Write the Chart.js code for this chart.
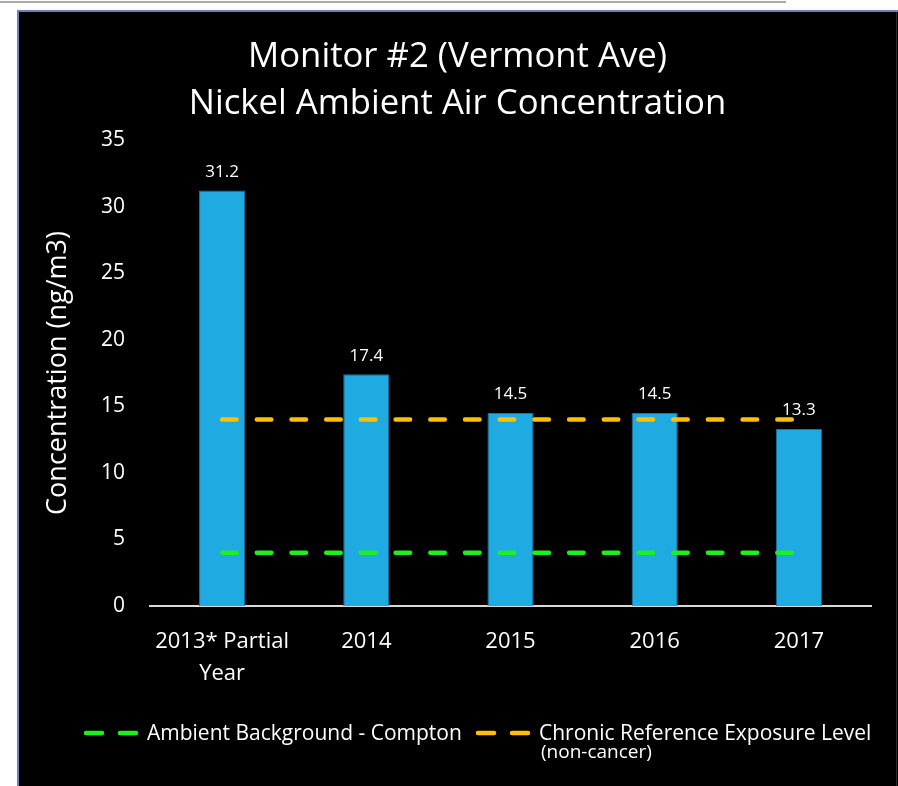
<!DOCTYPE html>
<html>
<head>
<meta charset="utf-8">
<script src="https://cdn.jsdelivr.net/npm/chart.js@4.4.0/dist/chart.umd.min.js"></script>
<style>
  html, body { margin: 0; padding: 0; background: #fff; }
  #wrap { width: 898px; height: 786px; }
</style>
</head>
<body>
<div id="wrap"><canvas id="chart" width="898" height="786"></canvas></div>
<script>
// 数据
const years = [['2013* Partial', 'Year'], '2014', '2015', '2016', '2017'];
const nickelValues = [31.2, 17.4, 14.5, 14.5, 13.3];
const ambientBackground = [4, 4, 4, 4, 4];
const chronicREL = [14, 14, 14, 14, 14];
const yTickValues = [0, 5, 10, 15, 20, 25, 30, 35];
const titleLines = ['Monitor #2 (Vermont Ave)', 'Nickel Ambient Air Concentration'];
const legendLabels = ['Ambient Background - Compton', 'Chronic Reference Exposure Level'];
const legendSubLabel = '(non-cancer)';

const FONT = '"Open Sans", "Noto Sans", sans-serif';

// 背景和边框
const panelPlugin = {
  id: 'panel',
  beforeDraw(chart) {
    const ctx = chart.ctx;
    ctx.save();
    ctx.fillStyle = '#fff';
    ctx.fillRect(0, 0, chart.width, chart.height);
    ctx.strokeStyle = '#8e8e8e';
    ctx.lineWidth = 1.5;
    ctx.beginPath();
    ctx.moveTo(0, 2);
    ctx.lineTo(786, 2);
    ctx.stroke();
    ctx.fillStyle = '#000';
    ctx.fillRect(17, 10, chart.width - 17, chart.height - 10);
    ctx.strokeStyle = '#6e7fb8';
    ctx.lineWidth = 2;
    ctx.beginPath();
    ctx.moveTo(18, chart.height);
    ctx.lineTo(18, 11);
    ctx.lineTo(chart.width, 11);
    ctx.stroke();
    ctx.strokeStyle = '#2a2a2a';
    ctx.lineWidth = 1;
    ctx.beginPath();
    ctx.moveTo(896.5, 12);
    ctx.lineTo(896.5, chart.height);
    ctx.stroke();
    ctx.restore();
  }
};

// 柱顶数值
const valueLabelPlugin = {
  id: 'valueLabels',
  afterDatasetsDraw(chart) {
    const ctx = chart.ctx;
    const meta = chart.getDatasetMeta(0);
    ctx.save();
    ctx.fillStyle = '#fff';
    ctx.font = '17px ' + FONT;
    ctx.textAlign = 'center';
    ctx.textBaseline = 'middle';
    meta.data.forEach((bar, i) => {
      ctx.fillText(nickelValues[i].toFixed(1), bar.x, bar.y - 18.5);
    });
    ctx.restore();
  }
};

// 自定义图例
const legendPlugin = {
  id: 'customLegend',
  afterDraw(chart) {
    const ctx = chart.ctx;
    const y = chart.chartArea.bottom + 127;
    const starts = [86, 478];
    ctx.save();
    [1, 2].forEach((dsIndex, k) => {
      const ds = chart.data.datasets[dsIndex];
      const x0 = starts[k];
      ctx.strokeStyle = ds.borderColor;
      ctx.lineWidth = ds.borderWidth;
      ctx.lineCap = 'round';
      ctx.setLineDash([16, 18]);
      ctx.beginPath();
      ctx.moveTo(x0, y);
      ctx.lineTo(x0 + 52, y);
      ctx.stroke();
      ctx.setLineDash([]);
      ctx.fillStyle = '#fff';
      ctx.font = '21px ' + FONT;
      ctx.textAlign = 'left';
      ctx.textBaseline = 'middle';
      ctx.fillText(ds.label, x0 + 61, y + 1);
    });
    ctx.font = '19px ' + FONT;
    ctx.fillText(legendSubLabel, starts[1] + 63, y + 20);
    ctx.restore();
  }
};

const ctx = document.getElementById('chart').getContext('2d');
new Chart(ctx, {
  data: {
    labels: years,
    datasets: [
      {
        type: 'bar',
        label: 'Nickel',
        data: nickelValues,
        backgroundColor: '#1fabe1',
        borderColor: '#17739f',
        borderWidth: 1,
        categoryPercentage: 1,
        barPercentage: 0.32,
        order: 2
      },
      {
        type: 'line',
        label: legendLabels[0],
        data: ambientBackground,
        borderColor: '#1ef01e',
        borderWidth: 4.5,
        borderDash: [14.5, 20.2],
        borderCapStyle: 'round',
        pointRadius: 0,
        fill: false,
        order: 1
      },
      {
        type: 'line',
        label: legendLabels[1],
        data: chronicREL,
        borderColor: '#ffc000',
        borderWidth: 4.5,
        borderDash: [14.5, 20.2],
        borderCapStyle: 'round',
        pointRadius: 0,
        fill: false,
        order: 0
      }
    ]
  },
  options: {
    responsive: false,
    animation: false,
    layout: { padding: { left: 17, right: 0, top: 10, bottom: 80 } },
    plugins: {
      legend: { display: false },
      tooltip: { enabled: false },
      title: {
        display: true,
        text: titleLines,
        color: '#fff',
        font: { family: FONT, size: 34.7, weight: 'normal', lineHeight: 47 / 34.7 },
        padding: { top: 24, bottom: 12 }
      }
    },
    scales: {
      x: {
        grid: { display: false, drawTicks: false },
        border: { display: true, color: '#d9d9d9', width: 2 },
        ticks: {
          color: '#fff',
          font: { family: FONT, size: 22, lineHeight: 1.45 },
          padding: 20,
          maxRotation: 0,
          autoSkip: false
        },
        afterFit(scale) { scale.height = 100; }
      },
      y: {
        min: 0,
        max: 35,
        grid: { display: false, drawTicks: false },
        border: { display: false },
        ticks: {
          color: '#fff',
          font: { family: FONT, size: 21 },
          padding: 25
        },
        afterBuildTicks(scale) {
          scale.ticks = yTickValues.map(v => ({ value: v }));
        },
        afterFit(scale) { scale.width = 133; },
        title: {
          display: true,
          text: 'Concentration (ng/m3)',
          color: '#fff',
          font: { family: FONT, size: 27, lineHeight: 1.2 },
          padding: { top: 25, bottom: 0 }
        }
      },
      // 右侧留白
      yRight: {
        position: 'right',
        min: 0,
        max: 35,
        grid: { display: false, drawTicks: false },
        border: { display: false },
        ticks: { display: false },
        afterFit(scale) { scale.width = 27; }
      }
    }
  },
  plugins: [panelPlugin, valueLabelPlugin, legendPlugin]
});
</script>
</body>
</html>
